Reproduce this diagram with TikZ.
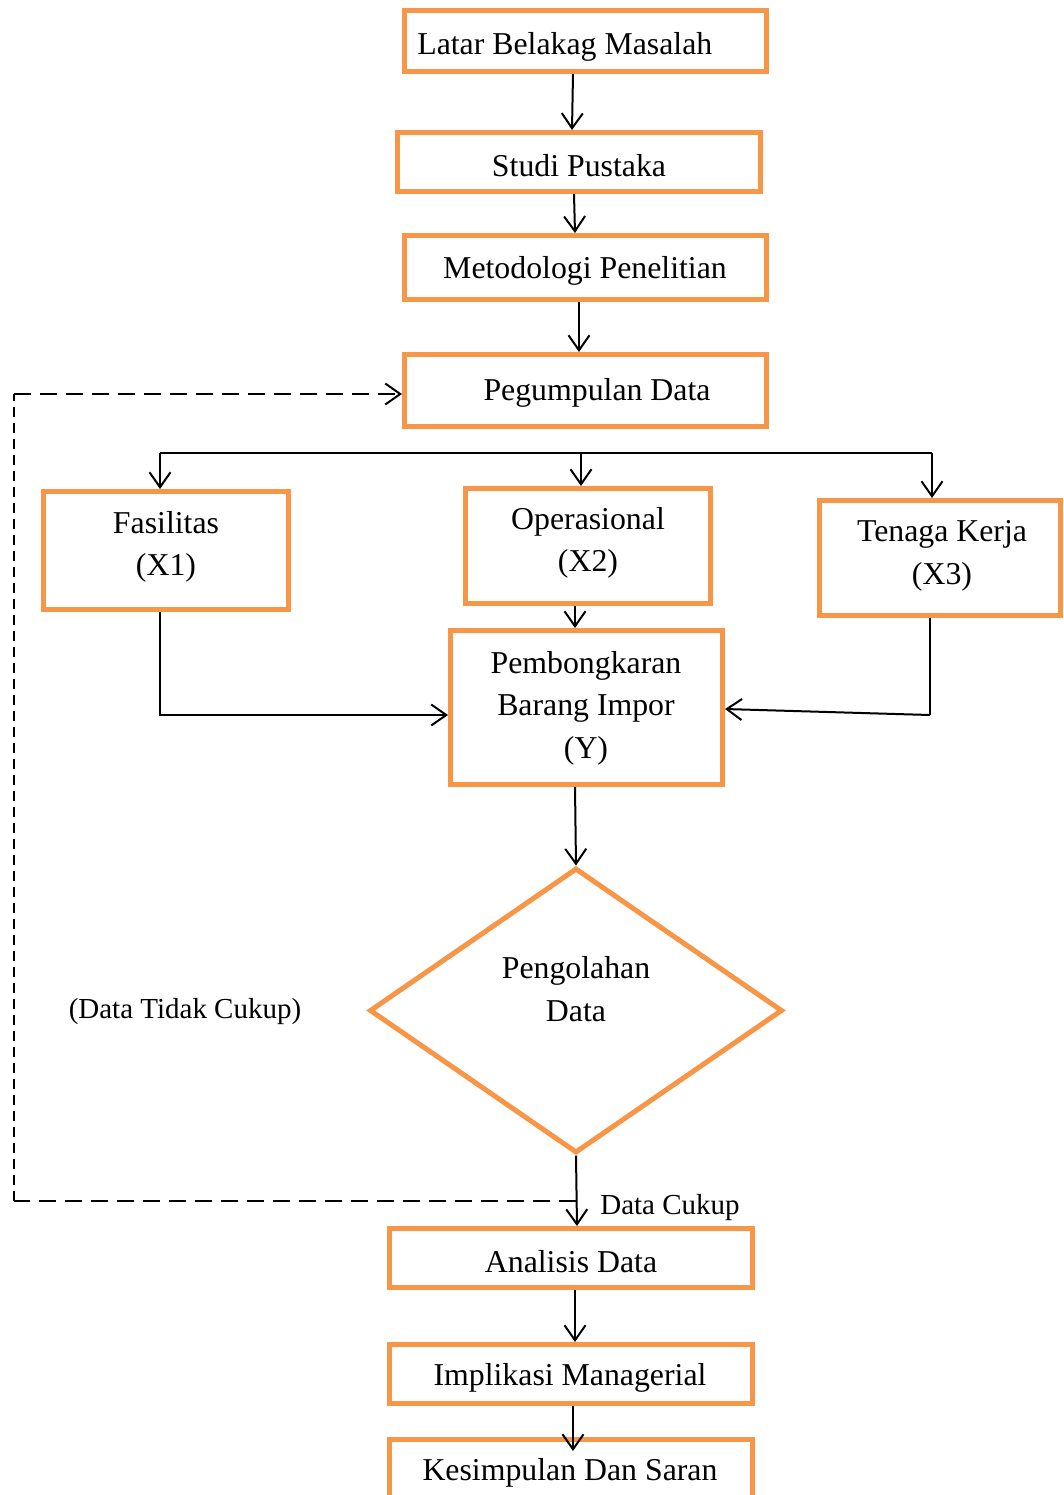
\documentclass[tikz,border=0pt]{standalone}
\usepackage{fontspec}
\setmainfont{Liberation Serif}
\usetikzlibrary{arrows.meta,shapes.geometric}
\definecolor{boxorange}{HTML}{F79646}
\begin{document}
\begin{tikzpicture}[x=0.02cm,y=-0.02cm,
  box/.style={draw=boxorange,line width=0.1cm,rectangle,inner sep=0pt},
  txt/.style={font=\fontsize{18.1}{24.2}\selectfont,align=center,inner sep=0pt},
  lbl/.style={font=\fontsize{16.5}{20}\selectfont,inner sep=0pt},
  arr/.style={line width=0.04cm,-{Straight Barb[length=0.3cm,width=0.42cm,line width=0.04cm]}},
  ln/.style={line width=0.04cm},
  dashh/.style={line width=0.04cm,dash pattern=on 0.34cm off 0.18cm},
  dashv/.style={line width=0.04cm,dash pattern=on 0.2cm off 0.12cm}]
\clip (0,0) rectangle (1063,1495);
\useasboundingbox (0,0) rectangle (1063,1495);
\fill[white] (0,0) rectangle (1063,1495);

% boxes
\node[box,minimum width=362*0.02cm,minimum height=61*0.02cm] (b1) at (585.5,41) {};
\node[box,minimum width=363*0.02cm,minimum height=59*0.02cm] (b2) at (579,162) {};
\node[box,minimum width=362*0.02cm,minimum height=64*0.02cm] (b3) at (585.5,267.5) {};
\node[box,minimum width=362*0.02cm,minimum height=72*0.02cm] (b4) at (585.5,390.5) {};
\node[box,minimum width=245*0.02cm,minimum height=118*0.02cm] (bf) at (166,550.5) {};
\node[box,minimum width=245*0.02cm,minimum height=115*0.02cm] (bo) at (588,546) {};
\node[box,minimum width=241*0.02cm,minimum height=115*0.02cm] (bt) at (940,558) {};
\node[box,minimum width=272*0.02cm,minimum height=154*0.02cm] (bp) at (586.5,707.5) {};
\node[draw=boxorange,line width=0.1cm,diamond,aspect=1.45,inner sep=0pt,minimum width=413*0.02cm,minimum height=285*0.02cm] (dm) at (576,1010.5) {};
\node[box,minimum width=363*0.02cm,minimum height=59*0.02cm] (ba) at (571,1258) {};
\node[box,minimum width=363*0.02cm,minimum height=59*0.02cm] (bi) at (571,1374) {};
\node[box,minimum width=363*0.02cm,minimum height=100*0.02cm] (bk) at (571,1489.5) {};

% texts
\node[txt,anchor=west] (t1) at (417,47) {Latar Belakag Masalah};
\node[txt] (t2) at (579,166) {Studi Pustaka};
\node[txt] (t3) at (585,271) {Metodologi Penelitian};
\node[txt] (t4) at (597,393) {Pegumpulan Data};
\node[txt] (tf) at (166,547) {Fasilitas\\(X1)};
\node[txt] (to) at (588,543) {Operasional\\(X2)};
\node[txt] (tt) at (942,556) {Tenaga Kerja\\(X3)};
\node[txt] (tp) at (586,708) {Pembongkaran\\Barang Impor\\(Y)};
\node[txt] (td) at (576,989) {Pengolahan\\Data};
\node[txt] (ta) at (571,1262) {Analisis Data};
\node[txt] (ti) at (570,1378) {Implikasi Managerial};
\node[txt] (tk) at (570,1473) {Kesimpulan Dan Saran};
\node[lbl] (ltc) at (185,1012) {(Data Tidak Cukup)};
\node[lbl] (lc) at (670,1208) {Data Cukup};

% main chain
\draw[arr] (b1.south -| 573,0) -- (b2.north -| 572,0);
\draw[arr] (b2.south -| 574,0) -- (b3.north -| 575,0);
\draw[arr] (b3.south -| 579,0) -- (b4.north -| 579,0);

% bus
\coordinate (busL) at (160,453);
\coordinate (busM) at (581,453);
\coordinate (busR) at (932,453);
\draw[ln] (busL) -- (busR);
\draw[arr] (busL) -- (bf.north -| busL);
\draw[arr] (busM) -- (bo.north -| busM);
\draw[arr] (busR) -- (bt.north -| busR);

% into Y
\draw[arr] (bo.south -| 575,0) -- (bp.north -| 575,0);
\draw[arr] (bf.south -| 160,0) |- (bp.west |- 0,715);
\coordinate (tcorner) at (930,715);
\draw[ln] (bt.south -| tcorner) -- (tcorner);
\draw[arr] (tcorner) -- (bp.east |- 0,709);

% Y to diamond
\draw[arr] (bp.south -| 575,0) -- (dm.north);
% diamond to Analisis
\draw[arr] (dm.south) -- (ba.north -| 577,0);

% dashed feedback
\coordinate (dj) at (576,1201);
\coordinate (dcl) at (14,1201);
\coordinate (dcu) at (14,394);
\draw[dashh] (dj) -- (dcl);
\draw[dashv] (dcl) -- (dcu);
\draw[dashh,-{Straight Barb[length=0.3cm,width=0.42cm,line width=0.04cm]}] (dcu) -- (b4.west |- dcu);

% lower chain
\draw[arr] (ba.south -| 575,0) -- (bi.north -| 575,0);
\draw[arr] (bi.south -| 573,0) -- (573,1451);
\end{tikzpicture}
\end{document}
